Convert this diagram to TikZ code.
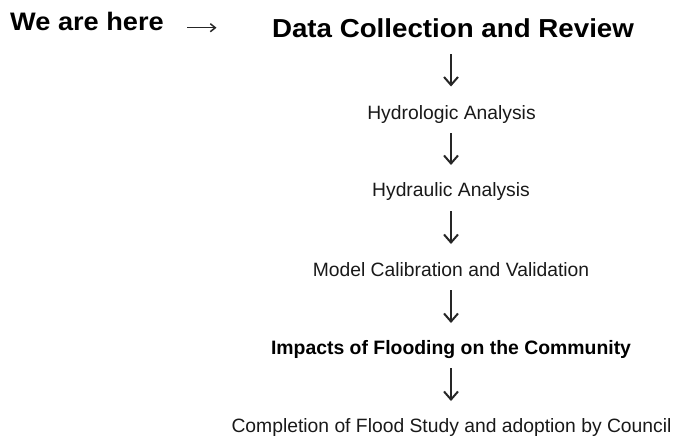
\documentclass[tikz,border=0pt]{standalone}
\usepackage{fontspec}
\setmainfont{Liberation Sans}
\usetikzlibrary{arrows.meta}
\tikzset{
  reg/.style={anchor=base, inner sep=0pt, font=\fontsize{19.3}{22}\selectfont, text=black!90},
  boldtxt/.style={anchor=base, inner sep=0pt, font=\fontsize{19.4}{22}\selectfont\bfseries, text=black},
  flow/.style={draw=black!85, line width=1.8pt, -{Straight Barb[length=8pt,width=14pt,line width=2pt]}},
  small/.style={draw=black!85, line width=1.5pt, -{Straight Barb[length=5pt,width=8pt,line width=1.5pt]}}
}
\begin{document}
\begin{tikzpicture}[x=1pt,y=-1pt]
\useasboundingbox (0,0) rectangle (675,437);
\node[anchor=base, inner sep=0pt, font=\fontsize{25.3}{28}\selectfont\bfseries] (here) at (87,30.5) {\scalebox{1.074}[1]{We are here}};
\node[anchor=base, inner sep=0pt, font=\fontsize{26}{29}\selectfont\bfseries] (data) at (453,37) {\scalebox{1.066}[1]{Data Collection and Review}};
\coordinate (hs) at (187,27.7);
\coordinate (he) at (216.5,27.7);
\draw[small] (hs) -- (he);
\node[reg] (hydro) at (451.5,119.5) {Hydrologic Analysis};
\node[reg] (hydra) at (451,196) {Hydraulic Analysis};
\node[reg] (model) at (451,276) {Model Calibration and Validation};
\node[boldtxt] (impact) at (451,354) {Impacts of Flooding on the Community};
\node[reg] (compl) at (451.5,432) {Completion of Flood Study and adoption by Council};
\coordinate (a1s) at (451,54);  \coordinate (a1e) at (451,86.5);
\coordinate (a2s) at (451,133); \coordinate (a2e) at (451,165);
\coordinate (a3s) at (451,211); \coordinate (a3e) at (451,244);
\coordinate (a4s) at (451,290); \coordinate (a4e) at (451,323);
\coordinate (a5s) at (451,368); \coordinate (a5e) at (451,401);
\draw[flow] (a1s) -- (a1e);
\draw[flow] (a2s) -- (a2e);
\draw[flow] (a3s) -- (a3e);
\draw[flow] (a4s) -- (a4e);
\draw[flow] (a5s) -- (a5e);
\end{tikzpicture}
\end{document}
